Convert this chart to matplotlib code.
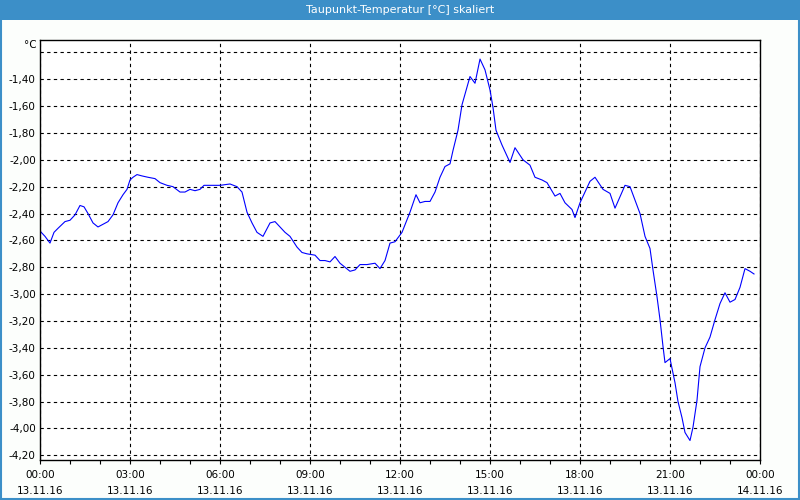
import matplotlib
matplotlib.use('Agg')
import matplotlib.pyplot as plt
import matplotlib.patches as patches
import numpy as np

# hours since 13.11.16 00:00
hours = [0.00, 0.167, 0.333, 0.467, 0.6, 0.833, 1.0, 1.167, 1.333, 1.467,
         1.6, 1.767, 1.933, 2.1, 2.267, 2.433, 2.6, 2.767, 2.9, 3.0,
         3.1, 3.233, 3.4, 3.6, 3.833, 4.0, 4.233, 4.433, 4.667, 4.833,
         5.0, 5.167, 5.333, 5.467, 5.667, 6.0, 6.333, 6.567, 6.733, 6.9,
         7.067, 7.233, 7.433, 7.667, 7.833, 8.0, 8.167, 8.333, 8.567, 8.733,
         8.9, 9.167, 9.333, 9.5, 9.667, 9.833, 10.0, 10.167, 10.333, 10.5,
         10.667, 10.9, 11.167, 11.333, 11.5, 11.667, 11.833, 12.067, 12.333, 12.533,
         12.667, 12.833, 13.0, 13.167, 13.333, 13.5, 13.667, 13.767, 13.933, 14.067,
         14.233, 14.333, 14.5, 14.667, 14.833, 15.0, 15.1, 15.2, 15.4, 15.667,
         15.833, 16.1, 16.333, 16.5, 16.733, 16.9, 17.167, 17.333, 17.5, 17.733,
         17.833, 18.0, 18.333, 18.5, 18.767, 19.0, 19.167, 19.5, 19.667, 19.833,
         20.0, 20.167, 20.333, 20.433, 20.567, 20.667, 20.767, 20.833, 21.0, 21.167,
         21.267, 21.4, 21.5, 21.667, 21.767, 21.9, 22.0, 22.167, 22.333, 22.5,
         22.667, 22.833, 23.0, 23.167, 23.333, 23.5, 23.667, 23.8]
taupunkt = [-2.53, -2.57, -2.62, -2.54, -2.51, -2.46, -2.45, -2.41, -2.34, -2.35,
            -2.40, -2.47, -2.50, -2.48, -2.46, -2.41, -2.32, -2.26, -2.22, -2.15,
            -2.13, -2.11, -2.12, -2.13, -2.14, -2.17, -2.19, -2.20, -2.24, -2.24,
            -2.22, -2.23, -2.22, -2.19, -2.19, -2.19, -2.18, -2.20, -2.24, -2.39,
            -2.47, -2.54, -2.57, -2.47, -2.46, -2.50, -2.54, -2.57, -2.65, -2.69,
            -2.70, -2.71, -2.75, -2.75, -2.76, -2.72, -2.77, -2.80, -2.83, -2.82,
            -2.78, -2.78, -2.77, -2.81, -2.75, -2.62, -2.61, -2.54, -2.39, -2.26,
            -2.32, -2.31, -2.31, -2.24, -2.13, -2.05, -2.03, -1.93, -1.78, -1.59,
            -1.46, -1.38, -1.43, -1.25, -1.33, -1.48, -1.61, -1.78, -1.89, -2.02,
            -1.91, -2.00, -2.04, -2.13, -2.15, -2.17, -2.27, -2.25, -2.32, -2.37,
            -2.43, -2.32, -2.16, -2.13, -2.22, -2.25, -2.36, -2.19, -2.20, -2.30,
            -2.40, -2.57, -2.66, -2.82, -3.02, -3.19, -3.39, -3.51, -3.48, -3.66,
            -3.80, -3.92, -4.03, -4.09, -3.99, -3.79, -3.54, -3.40, -3.32, -3.19,
            -3.07, -2.99, -3.06, -3.04, -2.95, -2.81, -2.83, -2.85]

tick_hours = [0, 3, 6, 9, 12, 15, 18, 21, 24]
tick_labels = ['00:00\n13.11.16', '03:00\n13.11.16', '06:00\n13.11.16',
               '09:00\n13.11.16', '12:00\n13.11.16', '15:00\n13.11.16',
               '18:00\n13.11.16', '21:00\n13.11.16', '00:00\n14.11.16']
y_ticks = [-1.2, -1.4, -1.6, -1.8, -2.0, -2.2, -2.4, -2.6, -2.8, -3.0,
           -3.2, -3.4, -3.6, -3.8, -4.0, -4.2]

title = 'Taupunkt-Temperatur [°C] skaliert'
bar_color = '#3c8fc8'

fig = plt.figure(figsize=(8, 5), dpi=100, facecolor='#fcfefc')

# title bar and frame
fig.patches.append(patches.Rectangle((0, 1 - 20 / 500), 1, 20 / 500, transform=fig.transFigure,
                                     facecolor=bar_color, edgecolor='none', zorder=0))
fig.patches.append(patches.Rectangle((0.001, 0.002), 0.998, 0.996, transform=fig.transFigure,
                                     facecolor='none', edgecolor=bar_color, linewidth=1.5, zorder=1))
fig.text(0.5, 1 - 10 / 500, title, color='white', fontsize=8,
         ha='center', va='center')

ax = fig.add_axes([40 / 800, 40 / 500, 720 / 800, 420 / 500])
ax.set_facecolor('white')
ax.plot(hours, taupunkt, color='#0000ff', linewidth=0.8)

ax.set_xlim(0, 24)
ax.set_ylim(-4.235, -1.108)

ax.set_xticks(tick_hours)
ax.set_xticklabels(tick_labels, fontsize=7.5, linespacing=1.75)
ax.set_xticks(np.arange(0, 25, 1), minor=True)
ax.tick_params(axis='x', which='both', direction='out', length=3, width=0.8, pad=4)

ax.set_yticks(y_ticks)
ax.set_yticklabels(['' if abs(v + 1.2) < 1e-6 else ('%.2f' % v).replace('.', ',') for v in y_ticks],
                   fontsize=7.5)
ax.tick_params(axis='y', length=0, pad=3)

ax.grid(True, which='major', color='black', linestyle=(0, (3, 3)), linewidth=0.8)
for s in ax.spines.values():
    s.set_color('black')
    s.set_linewidth(1)

fig.text(37 / 800, 1 - 45 / 500, '°C', fontsize=7.5, ha='right', va='center')

fig.savefig('out.png', dpi=100, facecolor=fig.get_facecolor())
